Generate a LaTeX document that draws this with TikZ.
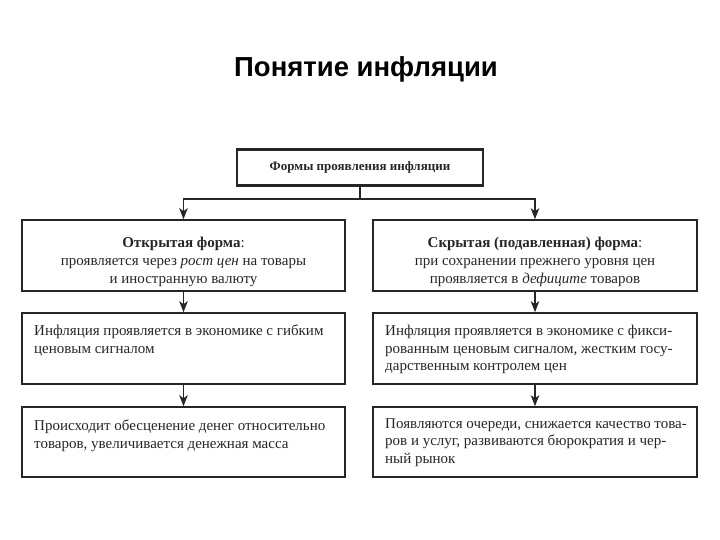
\documentclass[tikz,border=0pt]{standalone}
\usepackage{fontspec}
\setmainfont{Liberation Serif}
\newfontfamily\titlefont{Liberation Sans}
\usetikzlibrary{arrows.meta}
\tikzset{
  boxframe/.style={draw=black!85, line width=1.6pt, rectangle, inner sep=0pt},
  topframe/.style={draw=black!85, line width=2.4pt, rectangle, inner sep=0pt},
  ctext/.style={align=center, inner sep=0pt, font=\fontsize{15}{18}\selectfont, text=black!85},
  ltext/.style={align=left, inner sep=0pt, anchor=north west, font=\fontsize{15}{17.5}\selectfont, text=black!85},
  conn/.style={draw=black!85, line width=1.1pt},
  arr/.style={conn, -{Stealth[length=11pt,width=8.5pt,inset=3pt]}}
}
\begin{document}
\begin{tikzpicture}[x=1pt,y=-1pt]
\useasboundingbox (0,0) rectangle (720,540);
\node[font=\titlefont\bfseries\fontsize{27.5}{32}\selectfont] (title) at (366,69) {Понятие инфляции};

\node[topframe, minimum width=246pt, minimum height=36pt] (top) at (360,167.5) {};
\node[ctext, font=\bfseries\fontsize{13}{15}\selectfont] (toptxt) at (top.center) {Формы проявления инфляции};

\node[boxframe, minimum width=323pt, minimum height=71pt] (l1) at (183.5,255.5) {};
\node[boxframe, minimum width=324pt, minimum height=71pt] (r1) at (535,255.5) {};
\node[boxframe, minimum width=323pt, minimum height=71pt] (l2) at (183.5,348.5) {};
\node[boxframe, minimum width=324pt, minimum height=71pt] (r2) at (535,348.5) {};
\node[boxframe, minimum width=323pt, minimum height=70pt] (l3) at (183.5,442) {};
\node[boxframe, minimum width=324pt, minimum height=70pt] (r3) at (535,442) {};

\node[ctext] (l1t) at (183.5,262) {\textbf{Открытая форма}:\\проявляется через \textit{рост цен} на товары\\и иностранную валюту};
\node[ctext] (r1t) at (535,262) {\textbf{Скрытая (подавленная) форма}:\\при сохранении прежнего уровня цен\\проявляется в \textit{дефиците} товаров};

\node[ltext] (l2t) at (34,325) {Инфляция проявляется в экономике с гибким\\ценовым сигналом};
\node[ltext] (r2t) at (385,325) {Инфляция проявляется в экономике с фикси-\\рованным ценовым сигналом, жестким госу-\\дарственным контролем цен};
\node[ltext] (l3t) at (34,420) {Происходит обесценение денег относительно\\товаров, увеличивается денежная масса};
\node[ltext] (r3t) at (385,418) {Появляются очереди, снижается качество това-\\ров и услуг, развиваются бюрократия и чер-\\ный рынок};

\coordinate (split) at (360,199);
\draw[conn] (top.south) -- (split);
\draw[arr] (split) -| (l1.north);
\draw[arr] (split) -| (r1.north);
\draw[arr] (l1.south) -- (l2.north);
\draw[arr] (r1.south) -- (r2.north);
\draw[arr] (l2.south) -- (l3.north);
\draw[arr] (r2.south) -- (r3.north);
\end{tikzpicture}
\end{document}
